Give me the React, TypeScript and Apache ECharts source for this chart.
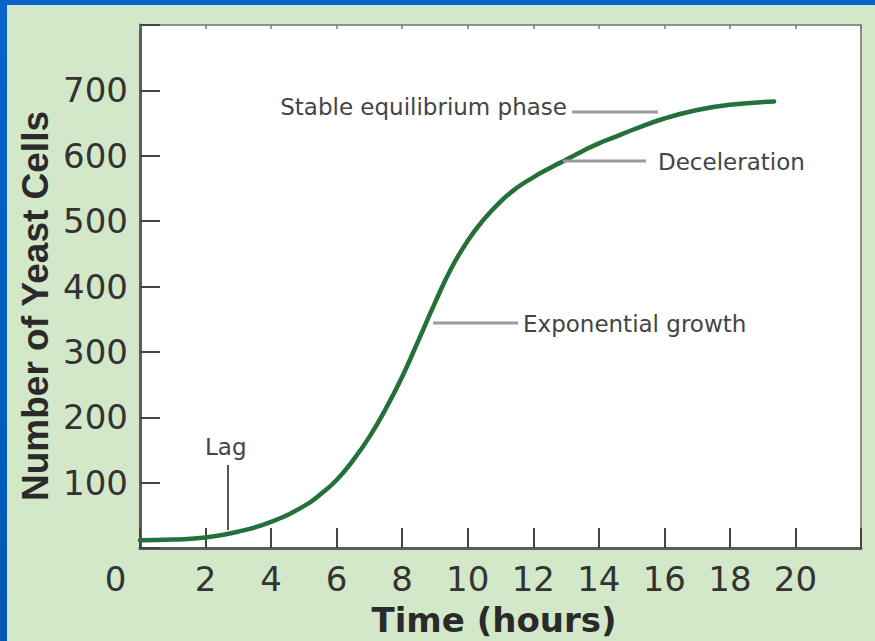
import React, { useEffect, useRef } from "react";
import * as echarts from "echarts";

// ---- data ----
const timeHours = [0, 1, 2, 3, 4, 5, 5.5, 6, 6.5, 7, 7.5, 8, 8.5, 9, 9.5, 10, 10.5, 11, 11.5, 12, 12.5, 13, 13.5, 14, 14.5, 15, 16, 17, 18, 19.35];
const yeastCells = [12, 13, 16, 25, 40, 64, 82, 104, 134, 170, 213, 262, 318, 375, 428, 470, 503, 530, 551, 567, 581, 594, 607, 619, 629, 639, 657, 670, 678, 683];
const xTickLabels = ["2", "4", "6", "8", "10", "12", "14", "16", "18", "20"];
const yTickLabels = ["100", "200", "300", "400", "500", "600", "700"];
const xAxisTitle = "Time (hours)";
const yAxisTitle = "Number of Yeast Cells";
const phaseLabels = ["Stable equilibrium phase", "Deceleration", "Exponential growth", "Lag"];
const originLabel = "0";

const DV = '"DejaVu Sans", "Liberation Sans", sans-serif';
const LS = '"Liberation Sans", Arial, sans-serif';

function txt(text: string, x: number, y: number, opts: any = {}) {
  const align = opts.align || "left";
  const va = opts.verticalAlign || "middle";
  return {
    type: "text",
    x,
    y,
    rotation: opts.rotation || 0,
    z: 20,
    silent: true,
    style: {
      text,
      fill: opts.fill || "#444",
      fontSize: opts.fontSize || 23,
      fontFamily: opts.fontFamily || DV,
      fontWeight: opts.fontWeight || "normal",
      align,
      verticalAlign: va,
      textAlign: align,
      textVerticalAlign: va,
    },
  };
}

function seg(x1: number, y1: number, x2: number, y2: number, stroke: string, lineWidth: number) {
  return {
    type: "line",
    z: 20,
    silent: true,
    shape: { x1, y1, x2, y2 },
    style: { stroke, lineWidth },
  };
}

export default function App() {
  const ref = useRef<HTMLDivElement>(null);

  useEffect(() => {
    if (!ref.current) return;
    const chart = echarts.init(ref.current, undefined, { renderer: "svg" });
    const tickStyle = { show: true, inside: true, length: 20, lineStyle: { color: "#444", width: 2 } };
    const option: any = {
      animation: false,
      backgroundColor: "transparent",
      grid: {
        left: 140,
        top: 25,
        width: 721,
        height: 523,
        show: true,
        backgroundColor: "#ffffff",
        borderColor: "#8e8e8e",
        borderWidth: 2,
      },
      xAxis: [
        {
          type: "value",
          min: 0,
          max: 22,
          interval: 2,
          position: "bottom",
          axisLine: { show: true, lineStyle: { color: "#5c5c5c", width: 3 } },
          axisTick: tickStyle,
          splitLine: { show: false },
          axisLabel: {
            margin: 14,
            color: "#333",
            fontSize: 34,
            fontFamily: DV,
            formatter: (v: number) => (xTickLabels.includes(String(v)) ? String(v) : ""),
          },
        },
        {
          type: "value",
          min: 0,
          max: 22,
          interval: 2,
          position: "top",
          axisLine: { show: false },
          axisTick: { show: true, inside: true, length: 4, lineStyle: { color: "#777", width: 1.5 } },
          splitLine: { show: false },
          axisLabel: { show: false },
        },
      ],
      yAxis: {
        type: "value",
        min: 0,
        max: 800,
        interval: 100,
        axisLine: { show: true, lineStyle: { color: "#5c5c5c", width: 3 } },
        axisTick: tickStyle,
        splitLine: { show: false },
        axisLabel: {
          margin: 12,
          color: "#333",
          fontSize: 34,
          fontFamily: DV,
          formatter: (v: number) => (yTickLabels.includes(String(v)) ? String(v) : ""),
        },
      },
      series: [
        {
          type: "line",
          xAxisIndex: 0,
          data: timeHours.map((t, i) => [t, yeastCells[i]]),
          smooth: 0.5,
          symbol: "none",
          showSymbol: false,
          lineStyle: { color: "#23703a", width: 4.5, cap: "round", join: "round" },
          silent: true,
          z: 5,
        },
      ],
      graphic: [
        // axis titles and origin label
        txt(yAxisTitle, 35.5, 306, { align: "center", rotation: Math.PI / 2, fontSize: 37, fontWeight: "bold", fontFamily: LS, fill: "#2a2a2a" }),
        txt(xAxisTitle, 494, 620, { align: "center", fontSize: 34, fontWeight: "bold", fill: "#2a2a2a" }),
        txt(originLabel, 115.5, 579, { align: "center", fontSize: 34, fill: "#333" }),
        // phase annotations
        seg(572, 112, 658, 112, "#9a9a9a", 3),
        txt(phaseLabels[0], 567, 107, { align: "right" }),
        seg(563, 161, 646, 161, "#9a9a9a", 3),
        txt(phaseLabels[1], 658, 162),
        seg(433, 323, 518, 323, "#9a9a9a", 3),
        txt(phaseLabels[2], 523, 324),
        seg(228, 465, 228, 530, "#555", 2),
        txt(phaseLabels[3], 205, 447),
      ],
    };
    chart.setOption(option);
    return () => chart.dispose();
  }, []);

  return (
    <div
      style={{
        position: "fixed",
        left: 0,
        top: 0,
        width: 875,
        height: 641,
        overflow: "hidden",
        background: "linear-gradient(180deg, #0864c8 0%, #0057b8 100%)",
      }}
    >
      <div style={{ position: "absolute", left: 7, top: 5, right: 0, bottom: 0, background: "#d3e8c9" }} />
      <div ref={ref} style={{ position: "absolute", left: 0, top: 0, width: 875, height: 641 }} />
    </div>
  );
}
